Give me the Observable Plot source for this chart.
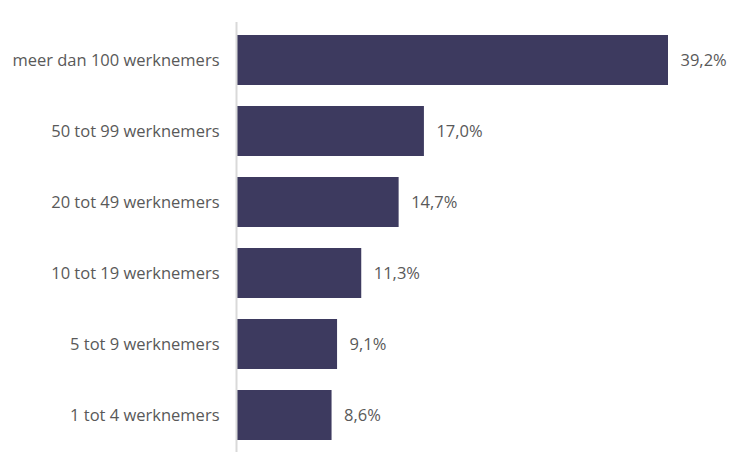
<!DOCTYPE html>
<html>
<head>
<meta charset="utf-8">
<script src="https://cdn.jsdelivr.net/npm/d3@7"></script>
<script src="https://cdn.jsdelivr.net/npm/@observablehq/plot@0.6"></script>
<style>
  html, body { margin: 0; padding: 0; background: #fff; }
  #chart svg { display: block; }
</style>
</head>
<body>
<div id="chart"></div>
<script>
const categories = [
  "meer dan 100 werknemers",
  "50 tot 99 werknemers",
  "20 tot 49 werknemers",
  "10 tot 19 werknemers",
  "5 tot 9 werknemers",
  "1 tot 4 werknemers"
];
const values = [39.2, 17.0, 14.7, 11.3, 9.1, 8.6];

const data = categories.map((c, i) => ({category: c, value: values[i]}));
const fmt = v => v.toFixed(1).replace(".", ",") + "%";
const font = "'Open Sans', sans-serif";

const chart = Plot.plot({
  width: 755,
  height: 475,
  marginLeft: 237,
  marginRight: 87,
  marginTop: 22,
  marginBottom: 23,
  style: {fontFamily: font, fontSize: "16.5px", color: "#595959", background: "#fff"},
  x: {domain: [0, 39.2], axis: null},
  y: {domain: categories, paddingInner: 0.3, paddingOuter: 0.15, label: null, axis: null},
  marks: [
    Plot.barX(data, {x: "value", y: "category", fill: "#3d3a5f"}),
    Plot.text(data, {x: "value", y: "category", text: d => fmt(d.value), textAnchor: "start", dx: 12, fill: "#595959", fontSize: 16.5}),
    Plot.ruleX([0], {stroke: "#d9d9d9", strokeWidth: 2, dx: -1}),
    Plot.axisY({tickSize: 0, tickPadding: 18, fontSize: 16.5, fill: "#595959", label: null})
  ]
});
document.getElementById("chart").appendChild(chart);
</script>
</body>
</html>
